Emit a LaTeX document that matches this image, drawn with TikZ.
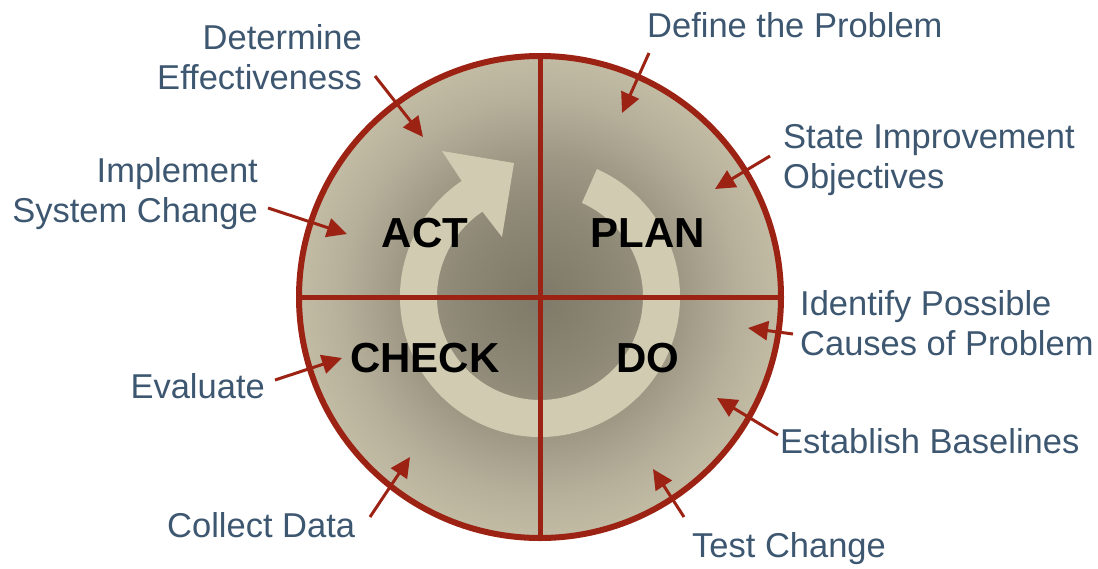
\documentclass[tikz,border=0pt]{standalone}
\usepackage{fontspec}
\setmainfont{Liberation Sans}
\usetikzlibrary{arrows.meta}
\definecolor{pdcared}{RGB}{156,35,19}
\definecolor{pdcatext}{RGB}{62,87,113}
\definecolor{pdcaring}{RGB}{209,203,177}
\definecolor{pdcacore}{RGB}{126,121,104}
\definecolor{pdcainner}{RGB}{142,137,118}
\definecolor{pdcamid}{RGB}{158,152,133}
\definecolor{pdcaouter}{RGB}{182,176,155}
\definecolor{pdcaedge}{RGB}{198,192,168}
\definecolor{pdcarim}{RGB}{205,199,174}
\pgfdeclareradialshading{pdcafill}{\pgfpoint{0bp}{0bp}}{color(0bp)=(pdcacore); color(8.8bp)=(pdcainner); color(14.7bp)=(pdcamid); color(20.6bp)=(pdcaouter); color(26.5bp)=(pdcaedge); color(35.3bp)=(pdcarim); color(50bp)=(pdcarim)}
\tikzset{
  phase/.style={font=\fontsize{42}{48}\selectfont\bfseries, text=black, inner sep=0pt},
  note/.style={font=\fontsize{34.5}{40}\selectfont, text=pdcatext, inner sep=0pt},
  callout/.style={draw=pdcared, line width=3pt, -{Triangle[length=20pt, width=19pt]}, pdcared},
  divider/.style={draw=pdcared, line width=5pt}
}
\begin{document}
\begin{tikzpicture}[x=1pt, y=-1pt]
		\useasboundingbox (0,0) rectangle (1098,568);
		% the wheel
		\node[circle, minimum size=482pt, inner sep=0pt, outer sep=0pt, shade, shading=pdcafill] (wheel) at (540,297) {};
		\fill[pdcaring] ([shift={(wheel.center)}]-66:140) arc[start angle=-66, end angle=236, radius=140]
			-- (442,151) -- (514,163) -- (502,237)
			-- ([shift={(wheel.center)}]236:103) arc[start angle=236, end angle=-66, radius=103] -- cycle;
		\draw[divider] (wheel.north) -- (wheel.south);
		\draw[divider] (wheel.west) -- (wheel.east);
		\draw[pdcared, line width=6pt] (wheel.center) circle[radius=241];
		% phases
		\node[phase, anchor=base] (act) at (425,247) {ACT};
		\node[phase, anchor=base] (plan) at (648,247) {PLAN};
		\node[phase, anchor=base] (check) at (425,372) {CHECK};
		\node[phase, anchor=base] (do) at (648,372) {DO};
		% steps (base = last line)
		\node[note, anchor=base west] (define) at (647,37) {Define the Problem};
		\node[note, anchor=base west, align=left] (state) at (783,188) {State Improvement\\Objectives};
		\node[note, anchor=base west, align=left] (identify) at (800,355) {Identify Possible\\Causes of Problem};
		\node[note, anchor=base west] (baselines) at (780,453) {Establish Baselines};
		\node[note, anchor=base west] (test) at (692,557) {Test Change};
		\node[note, anchor=base west] (collect) at (167,537) {Collect Data};
		\node[note, anchor=base east] (evaluate) at (265,398) {Evaluate};
		\node[note, anchor=base east, align=right] (implement) at (258,222) {Implement\\System Change};
		\node[note, anchor=base east, align=right] (determine) at (362,89) {Determine\\Effectiveness};
		% arrow ends
		\coordinate (define-a) at (649,53);   \coordinate (define-b) at (622,113);
		\coordinate (state-a) at (770,156);   \coordinate (state-b) at (715,189);
		\coordinate (identify-a) at (793,334); \coordinate (identify-b) at (748,328);
		\coordinate (baselines-a) at (778,435); \coordinate (baselines-b) at (717,398);
		\coordinate (test-a) at (684,517);    \coordinate (test-b) at (653,469);
		\coordinate (collect-a) at (370,517); \coordinate (collect-b) at (410,457);
		\coordinate (evaluate-a) at (275,380); \coordinate (evaluate-b) at (342,358);
		\coordinate (implement-a) at (268,208); \coordinate (implement-b) at (347,234);
		\coordinate (determine-a) at (375,76); \coordinate (determine-b) at (423,137);
		\foreach \s in {define,state,identify,baselines,test,collect,evaluate,implement,determine}
			\draw[callout] (\s-a) -- (\s-b);
\end{tikzpicture}
\end{document}
